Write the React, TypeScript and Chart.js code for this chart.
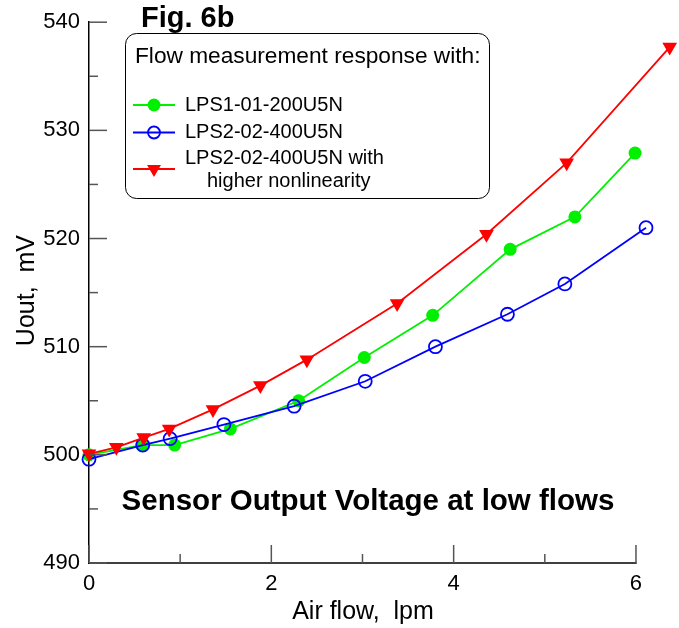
import React, { useEffect, useRef } from "react";
import { Chart, registerables } from "chart.js";

Chart.register(...registerables);

// ---- data ----
const greenLabel = "LPS1-01-200U5N";
const greenX = [0, 0.58, 0.94, 1.55, 2.3, 3.02, 3.77, 4.62, 5.33, 5.99];
const greenY = [500.0, 500.9, 500.9, 502.4, 505.0, 509.0, 512.9, 519.0, 522.0, 527.9];

const blueLabel = "LPS2-02-400U5N";
const blueX = [0, 0.59, 0.89, 1.48, 2.25, 3.03, 3.8, 4.59, 5.22, 6.11];
const blueY = [499.6, 500.9, 501.5, 502.8, 504.5, 506.8, 510.0, 513.0, 515.8, 521.0];

const redLabel = ["LPS2-02-400U5N with", "higher nonlinearity"];
const redX = [0, 0.3, 0.6, 0.88, 1.36, 1.88, 2.39, 3.38, 4.36, 5.24, 6.37];
const redY = [500.1, 500.7, 501.6, 502.4, 504.2, 506.4, 508.8, 514.0, 520.4, 527.0, 537.7];

const xTicks = [0, 2, 4, 6];
const xMinorTicks = [1, 3, 5];
const xAxisEnd = 6;
const xViewMax = 6.45;
const yTicks = [490, 500, 510, 520, 530, 540];
const yMinorTicks = [495, 505, 515, 525, 535];

const xTitle = "Air flow,  lpm";
const yTitle = "Uout,  mV";
const figLabel = "Fig. 6b";
const innerTitle = "Sensor Output Voltage at low flows";
const legendTitle = "Flow measurement response with:";

const GREEN = "#00f000";
const BLUE = "#0000ff";
const RED = "#ff0000";
const FONT = "'Liberation Sans', Arial, Helvetica, sans-serif";
const LW = 1.8;

const toPts = (xs: number[], ys: number[]) => xs.map((x, i) => ({ x, y: ys[i] }));

function drawMarker(ctx: CanvasRenderingContext2D, kind: string, x: number, y: number, r: number, color: string) {
  ctx.save();
  ctx.beginPath();
  if (kind === "tri") {
    ctx.moveTo(x, y + r);
    ctx.lineTo(x - Math.sin((2 * Math.PI) / 3) * r, y - r / 2);
    ctx.lineTo(x + Math.sin((2 * Math.PI) / 3) * r, y - r / 2);
    ctx.closePath();
    ctx.fillStyle = color;
    ctx.fill();
  } else {
    ctx.arc(x, y, r, 0, Math.PI * 2);
    if (kind === "filled") {
      ctx.fillStyle = color;
      ctx.fill();
    } else {
      ctx.strokeStyle = color;
      ctx.lineWidth = LW;
      ctx.stroke();
    }
  }
  ctx.restore();
}

const decorPlugin = {
  id: "decor",
  afterDraw(chart: any) {
    const ctx: CanvasRenderingContext2D = chart.ctx;
    const xs = chart.scales.x;
    const ys = chart.scales.y;
    const area = chart.chartArea;
    ctx.save();
    // x axis line (only up to last tick)
    ctx.strokeStyle = "#000";
    ctx.lineWidth = 1.5;
    ctx.beginPath();
    ctx.moveTo(area.left, area.bottom);
    ctx.lineTo(xs.getPixelForValue(xAxisEnd) + 0.75, area.bottom);
    ctx.stroke();
    // inward ticks
    ctx.strokeStyle = "#555";
    ctx.lineWidth = 1.5;
    const tick = (x1: number, y1: number, x2: number, y2: number) => {
      ctx.beginPath();
      ctx.moveTo(x1, y1);
      ctx.lineTo(x2, y2);
      ctx.stroke();
    };
    yTicks.forEach((v) => {
      const p = ys.getPixelForValue(v);
      tick(area.left, p, area.left + 18, p);
    });
    yMinorTicks.forEach((v) => {
      const p = ys.getPixelForValue(v);
      tick(area.left, p, area.left + 9, p);
    });
    xTicks.forEach((v) => {
      const p = xs.getPixelForValue(v);
      tick(p, area.bottom, p, area.bottom - 18);
    });
    xMinorTicks.forEach((v) => {
      const p = xs.getPixelForValue(v);
      tick(p, area.bottom, p, area.bottom - 9);
    });

    ctx.fillStyle = "#000";
    // axis titles
    ctx.font = `25px ${FONT}`;
    ctx.textAlign = "center";
    ctx.textBaseline = "middle";
    ctx.fillText(xTitle, 363, 612);
    ctx.save();
    ctx.translate(27, (area.top + area.bottom) / 2 - 2);
    ctx.rotate(-Math.PI / 2);
    ctx.fillText(yTitle, 0, 0);
    ctx.restore();

    // fig label
    ctx.font = `bold 29px ${FONT}`;
    ctx.textAlign = "left";
    ctx.fillText(figLabel, 141, 19);

    // inner title
    ctx.font = `bold 29.5px ${FONT}`;
    ctx.textAlign = "center";
    ctx.fillText(innerTitle, 368, 502);

    // legend box
    ctx.beginPath();
    (ctx as any).roundRect(125.5, 33.5, 364, 165, 11);
    ctx.fillStyle = "#fff";
    ctx.fill();
    ctx.strokeStyle = "#000";
    ctx.lineWidth = 1;
    ctx.stroke();

    ctx.fillStyle = "#000";
    ctx.font = `22.7px ${FONT}`;
    ctx.textAlign = "left";
    ctx.textBaseline = "alphabetic";
    ctx.fillText(legendTitle, 135, 63);
    ctx.textBaseline = "middle";

    const entry = (y: number, color: string, kind: string, r: number) => {
      ctx.strokeStyle = color;
      ctx.lineWidth = LW;
      ctx.beginPath();
      ctx.moveTo(133, y);
      ctx.lineTo(175, y);
      ctx.stroke();
      drawMarker(ctx, kind, 154, y, r, color);
    };
    ctx.font = `20px ${FONT}`;
    entry(105, GREEN, "filled", 6.5);
    ctx.fillStyle = "#000";
    ctx.fillText(greenLabel, 185, 105);
    entry(132.5, BLUE, "open", 6);
    ctx.fillStyle = "#000";
    ctx.fillText(blueLabel, 185, 132.5);
    entry(169, RED, "tri", 8);
    ctx.fillStyle = "#000";
    ctx.fillText(redLabel[0], 185, 158);
    ctx.fillText(redLabel[1], 207, 181);
    ctx.restore();
  },
};

export default function App() {
  const ref = useRef<HTMLCanvasElement>(null);
  useEffect(() => {
    if (!ref.current) return;
    const chart = new Chart(ref.current, {
      type: "line",
      data: {
        datasets: [
          {
            label: greenLabel,
            data: toPts(greenX, greenY),
            borderColor: GREEN,
            backgroundColor: GREEN,
            borderWidth: LW,
            pointStyle: "circle",
            pointRadius: 6.5,
            pointBorderWidth: 0,
            pointBackgroundColor: GREEN,
            clip: false as any,
            order: 2,
          },
          {
            label: blueLabel,
            data: toPts(blueX, blueY),
            borderColor: BLUE,
            backgroundColor: "rgba(0,0,0,0)",
            borderWidth: LW,
            pointStyle: "circle",
            pointRadius: 6.5,
            pointBorderWidth: LW,
            pointBorderColor: BLUE,
            pointBackgroundColor: "rgba(0,0,0,0)",
            clip: false as any,
            order: 1,
          },
          {
            label: redLabel.join(" "),
            data: toPts(redX, redY),
            borderColor: RED,
            backgroundColor: RED,
            borderWidth: LW,
            pointStyle: "triangle",
            pointRotation: 180,
            pointRadius: 8.5,
            pointBorderWidth: 0,
            pointBackgroundColor: RED,
            clip: false as any,
            order: 0,
          },
        ],
      },
      options: {
        animation: false,
        responsive: false,
        devicePixelRatio: 1,
        layout: { autoPadding: false, padding: { top: 17, right: 2, left: 0, bottom: 0 } },
        plugins: { legend: { display: false }, tooltip: { enabled: false }, title: { display: false } },
        elements: { line: { tension: 0 } },
        scales: {
          x: {
            type: "linear",
            min: 0,
            max: xViewMax,
            afterBuildTicks: (s: any) => {
              s.ticks = xTicks.map((v) => ({ value: v }));
            },
            afterFit: (s: any) => {
              s.height = 65;
              s.paddingLeft = 0;
              s.paddingRight = 0;
            },
            grid: { display: false, drawTicks: false },
            border: { display: false },
            ticks: { color: "#000", font: { size: 22, family: FONT }, padding: 8, maxRotation: 0 },
          },
          y: {
            type: "linear",
            min: 490,
            max: 540,
            afterBuildTicks: (s: any) => {
              s.ticks = yTicks.map((v) => ({ value: v }));
            },
            afterFit: (s: any) => {
              s.width = 89;
            },
            grid: { display: false, drawTicks: false },
            border: { display: true, color: "#000", width: 1.5 },
            ticks: { color: "#000", font: { size: 22, family: FONT }, padding: 9 },
          },
        },
      },
      plugins: [decorPlugin],
    } as any);
    return () => chart.destroy();
  }, []);
  return (
    <div style={{ position: "fixed", left: 0, top: 0, width: 679, height: 628, background: "#fff" }}>
      <canvas ref={ref} width={679} height={628} style={{ display: "block" }} />
    </div>
  );
}
